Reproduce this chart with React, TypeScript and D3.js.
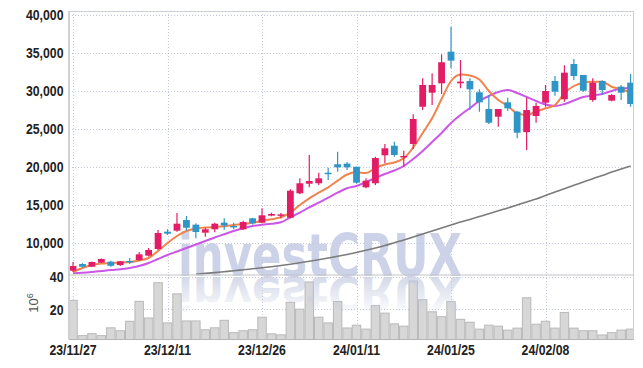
import * as d3 from "d3";

// trading days shown (Korean market)
const dates = [
  "23/11/27", "23/11/28", "23/11/29", "23/11/30", "23/12/01", "23/12/04", "23/12/05", "23/12/06", "23/12/07", "23/12/08",
  "23/12/11", "23/12/12", "23/12/13", "23/12/14", "23/12/15", "23/12/18", "23/12/19", "23/12/20", "23/12/21", "23/12/22",
  "23/12/26", "23/12/27", "23/12/28", "24/01/02", "24/01/03", "24/01/04", "24/01/05", "24/01/08", "24/01/09", "24/01/10",
  "24/01/11", "24/01/12", "24/01/15", "24/01/16", "24/01/17", "24/01/18", "24/01/19", "24/01/22", "24/01/23", "24/01/24",
  "24/01/25", "24/01/26", "24/01/29", "24/01/30", "24/01/31", "24/02/01", "24/02/02", "24/02/05", "24/02/06", "24/02/07",
  "24/02/08", "24/02/13", "24/02/14", "24/02/15", "24/02/16", "24/02/19", "24/02/20", "24/02/21", "24/02/22", "24/02/23",
];

const opens = [
  6360, 7240, 6880, 7410, 7540, 7100, 7630, 7760, 8330, 9210,
  11490, 11620, 13020, 12410, 11360, 11800, 12680, 12240, 11800, 13250,
  12670, 13600, 13600, 13330, 16540, 17800, 17860, 19250, 20360, 20440,
  20040, 17330, 17860, 21540, 22800, 21280, 23030, 27930, 29780, 31010,
  35170, 31010, 31320, 29830, 27630, 26620, 28510, 27280, 24590, 26710,
  28460, 31320, 28910, 33550, 32110, 28820, 31320, 28730, 30570, 31100,
];
const highs = [
  7500, 7330, 7560, 7950, 7650, 7630, 8030, 8820, 9340, 11710,
  11800, 13950, 13550, 12590, 12010, 12670, 13250, 12680, 12940, 13330,
  14560, 13990, 13950, 17070, 18510, 21580, 19250, 19910, 22010, 20660,
  20040, 18510, 21360, 23030, 23330, 22150, 26930, 31670, 32330, 34830,
  38460, 34080, 31670, 30220, 29470, 27630, 29120, 27370, 29120, 28460,
  30790, 31970, 33380, 34210, 32110, 31670, 31400, 29600, 30790, 32240,
];
const lows = [
  6180, 6790, 6850, 7380, 6880, 6960, 7240, 7630, 8240, 9080,
  11050, 11490, 11630, 10620, 10830, 11400, 11750, 11800, 11710, 12450,
  12590, 13510, 13250, 13250, 16410, 17330, 17630, 18290, 19380, 19610,
  17800, 17200, 17630, 20490, 21360, 20040, 22370, 27500, 28160, 29610,
  32990, 30350, 27500, 27280, 25660, 25300, 27370, 23780, 22240, 25830,
  27930, 29380, 28590, 31450, 29910, 28590, 29470, 28650, 28820, 27930,
];
const closes = [
  6970, 6880, 7500, 7900, 7000, 7590, 7460, 8510, 9080, 11320,
  11230, 12540, 12010, 11450, 11800, 12540, 12300, 12110, 12760, 12590,
  13640, 13820, 13770, 16880, 17860, 18160, 18510, 19120, 19960, 19960,
  17940, 18200, 21180, 22460, 21580, 21450, 26320, 30790, 30790, 33780,
  33990, 31230, 30220, 28510, 25830, 27630, 27720, 24510, 27500, 28030,
  30000, 29910, 32410, 31970, 30040, 31100, 30130, 29470, 29780, 28290,
];

// volume, in millions of shares
const volumes = [
  25.5, 3.9, 5.1, 3.9, 8.7, 6.9, 12.7, 24.9, 14.7, 36.3,
  11.7, 29.5, 12.9, 12.9, 7.5, 8.7, 13.3, 5.7, 6.9, 7.5,
  15.2, 5.0, 4.4, 24.3, 20.1, 36.8, 15.2, 11.7, 24.8, 8.6,
  10.3, 7.9, 22.3, 17.7, 11.1, 9.7, 37.4, 25.9, 18.5, 15.5,
  24.7, 13.9, 12.1, 7.9, 10.3, 9.7, 7.3, 8.5, 27.1, 10.9,
  12.7, 8.5, 18.1, 8.5, 6.9, 6.9, 4.3, 5.7, 7.3, 7.9,
];

// moving averages
const maShort = [
  6184, 6711, 7105, 7303, 7368, 7434, 7500, 7697, 8026, 8947,
  10000, 10921, 11579, 11908, 12039, 12105, 12197, 12368, 12500, 12671,
  12934, 13118, 13382, 13987, 15000, 15882, 16618, 17329, 18197, 19013,
  19303, 19211, 19868, 20329, 20592, 21145, 22566, 24474, 26408, 28947,
  31316, 32171, 32039, 31513, 30000, 28816, 28026, 27066, 26842, 27276,
  27724, 28158, 29697, 30658, 31092, 31224, 31224, 30566, 30224, 29776,
];
const maMid = [
  6013, 6079, 6184, 6316, 6447, 6539, 6711, 6974, 7368, 7895,
  8421, 8882, 9342, 9803, 10263, 10724, 11145, 11579, 11934, 12237,
  12408, 12539, 12724, 13382, 13987, 14697, 15303, 15961, 16618, 17197,
  17500, 18026, 18553, 19079, 19539, 20132, 21053, 22105, 23289, 24474,
  25789, 26842, 27763, 28684, 29342, 29868, 30132, 29737, 29211, 28684,
  28224, 28026, 28289, 28750, 29211, 29408, 29605, 30000, 30329, 30395,
];
const maLong = [
  null, null, null, null, null, null, null, null, null, null,
  null, null, null, 5895, 6000, 6105, 6224, 6342, 6474, 6605,
  6737, 6882, 7039, 7210, 7395, 7592, 7803, 8026, 8250, 8487,
  8750, 9039, 9342, 9671, 10039, 10395, 10789, 11184, 11579, 11974,
  12368, 12763, 13092, 13487, 13855, 14237, 14605, 15000, 15395, 15789,
  16250, 16711, 17145, 17592, 18026, 18461, 18882, 19342, 19737, 20132,
];

const priceTicks = [10000, 15000, 20000, 25000, 30000, 35000, 40000];
const volTicks = [20, 40];
const dateTicks = ["23/11/27", "23/12/11", "23/12/26", "24/01/11", "24/01/25", "24/02/08"];

const UP = "#e21d66";
const DOWN = "#2e95c6";
const FONT = "'Liberation Sans', Arial, sans-serif";
const NARROW = 0.82;

const App = () => {
  const left = 69, right = 633.5, top = 11, priceBottom = 274.5, volBottom = 339.5;

  const x = d3.scaleBand().domain(dates).range([68.3, 635.3]).padding(0);
  const bw = x.bandwidth();
  const cx = (d) => x(d) + bw / 2;
  const y = d3.scaleLinear().domain([5000, 40000]).range([281, 15]);
  const yv = d3.scaleLinear().domain([0, 40]).range([342, 276.7]);

  const lineOf = (vals) =>
    d3
      .line()
      .defined((d) => d != null)
      .x((d, i) => cx(dates[i]))
      .y((d) => y(d))
      .curve(d3.curveMonotoneX)(vals);

  const fmt = d3.format(",");

  return (
    <svg width={643} height={368} style={{ position: "absolute", left: 0, top: 0, background: "#fff" }}>
      <defs>
        <clipPath id="pricePane">
          <rect x={left} y={top} width={right - left} height={priceBottom - top} />
        </clipPath>
        <clipPath id="volPane">
          <rect x={left} y={priceBottom} width={right - left} height={volBottom - priceBottom} />
        </clipPath>
        <linearGradient id="reflect" gradientUnits="userSpaceOnUse" x1="0" y1="276" x2="0" y2="236">
          <stop offset="0" stopColor="#c3c9df" stopOpacity="0.7" />
          <stop offset="1" stopColor="#c3c9df" stopOpacity="0.12" />
        </linearGradient>
      </defs>

      {/* watermark */}
      <text x={178} y={276} fontFamily="'DejaVu Sans', sans-serif" fontWeight="bold" fontSize={58}
        textLength={284} lengthAdjust="spacingAndGlyphs" fill="#ccd2e8">investCRUX</text>

      {/* grid */}
      <g stroke="#c5c9dc" strokeWidth={1} strokeDasharray="1,2">
        {priceTicks.map((t) => (
          <line key={t} x1={left} x2={right} y1={Math.round(y(t)) + 0.5} y2={Math.round(y(t)) + 0.5} />
        ))}
        {volTicks.map((t) => (
          <line key={"v" + t} x1={left} x2={right} y1={Math.round(yv(t)) + 0.5} y2={Math.round(yv(t)) + 0.5} />
        ))}
        {dateTicks.map((d) => (
          <line key={d} x1={Math.round(cx(d)) + 0.5} x2={Math.round(cx(d)) + 0.5} y1={top} y2={volBottom} />
        ))}
      </g>

      {/* volume bars */}
      <g clipPath="url(#volPane)">
        {volumes.map((v, i) => (
          <rect key={i} x={x(dates[i]) + 0.5} y={yv(v)} width={bw - 1} height={volBottom - yv(v)}
            fill="#d7d7d7" stroke="#b9b9b9" strokeWidth={1} />
        ))}
        <g transform="translate(0,277) scale(1,-0.8) translate(0,-276)">
          <text x={178} y={276} fontFamily="'DejaVu Sans', sans-serif" fontWeight="bold" fontSize={58}
            textLength={284} lengthAdjust="spacingAndGlyphs" fill="url(#reflect)">investCRUX</text>
        </g>
      </g>

      {/* moving averages + candles */}
      <g clipPath="url(#pricePane)">
        <path d={lineOf(maLong)} fill="none" stroke="#7b7b7b" strokeWidth={1.6} />
        <path d={lineOf(maMid)} fill="none" stroke="#cc56e8" strokeWidth={2} />
        <path d={lineOf(maShort)} fill="none" stroke="#f0844c" strokeWidth={2} />
        {dates.map((d, i) => {
          const o = opens[i], c = closes[i];
          const col = c >= o ? UP : DOWN;
          const c0 = cx(d);
          const yt = y(Math.max(o, c));
          const yb = y(Math.min(o, c));
          return (
            <g key={d}>
              <line x1={c0} x2={c0} y1={y(highs[i])} y2={y(lows[i])} stroke={col} strokeWidth={1.2} />
              <rect x={c0 - 3.4} y={yt} width={6.8} height={Math.max(1.5, yb - yt)} fill={col} />
            </g>
          );
        })}
      </g>

      {/* frame */}
      <g stroke="#cdd0d8" fill="none">
        <line x1={left} x2={right} y1={top + 0.5} y2={top + 0.5} />
        <line x1={left} x2={left} y1={top} y2={volBottom} strokeWidth={2} />
        <line x1={right} x2={right} y1={top} y2={volBottom} />
        <line x1={left} x2={right} y1={priceBottom + 0.5} y2={priceBottom + 0.5} stroke="#c4c4c8" />
        <line x1={left} x2={right} y1={volBottom} y2={volBottom} stroke="#b5b5b5" />
      </g>

      {/* axis labels (narrowed Liberation Sans) */}
      <g fontFamily={FONT} fontSize={15} fontWeight="bold" fill="#222" textAnchor="end">
        {priceTicks.map((t) => (
          <text key={t} transform={`translate(63.5,${y(t)}) scale(${NARROW},1)`} dy="0.36em">{fmt(t)}</text>
        ))}
        {volTicks.map((t) => (
          <text key={"v" + t} transform={`translate(63.5,${yv(t)}) scale(${NARROW},1)`} dy="0.36em">{t}</text>
        ))}
      </g>
      <g fontFamily={FONT} fontSize={15} fontWeight="bold" fill="#222" textAnchor="middle">
        {dateTicks.map((d) => (
          <text key={d} transform={`translate(${cx(d)},355) scale(${NARROW},1)`}>{d}</text>
        ))}
      </g>
      <text transform="translate(38,303) rotate(-90)" fontFamily={FONT} fontSize={13} fill="#555" textAnchor="middle">
        10<tspan dy="-5" fontSize={9}>6</tspan>
      </text>
    </svg>
  );
};

export default App;
